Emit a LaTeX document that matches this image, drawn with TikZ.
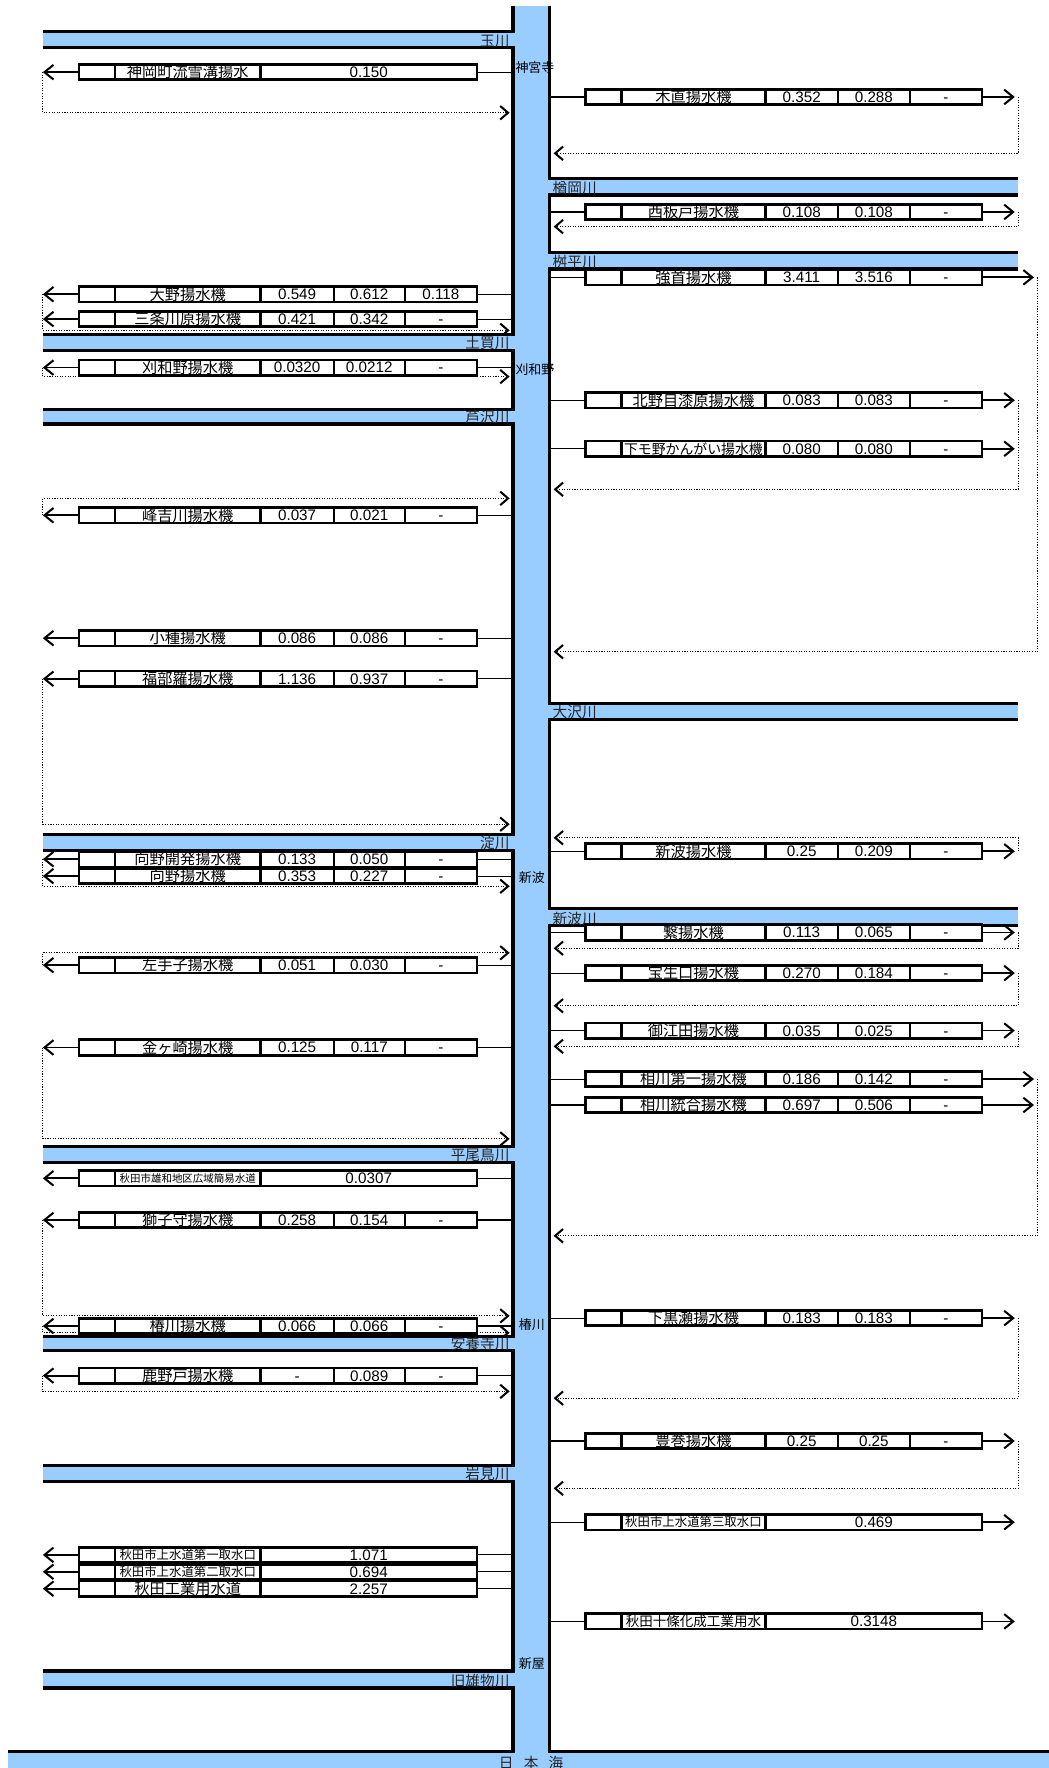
\documentclass[tikz,border=0pt]{standalone}
\usepackage{fontspec}
\setmainfont{Liberation Sans}
\newfontfamily\jp{Noto Sans CJK JP}
\usetikzlibrary{arrows.meta,backgrounds}

\definecolor{riverblue}{RGB}{153,204,255}
\newcommand{\fs}[1]{\fontsize{#1pt}{#1pt}\selectfont}

\tikzset{
  bank/.style={line width=2.8pt},
  pumpbox/.style={draw, line width=2.4pt, fill=white, minimum height=13.6pt, inner sep=0pt},
  cellsep/.style={line width=2.2pt},
  nametext/.style={font={\jp\fs{13.5}}, inner sep=0pt},
  valtext/.style={font={\fs{13.5}}, anchor=base, yshift=-4.8pt, inner sep=0pt},
  tap/.style={line width=1pt},
  outflow/.style={line width=1.6pt, -{Straight Barb[length=8pt,width=13pt,line width=1.8pt]}},
  returnflow/.style={line width=1pt, dash pattern=on 1pt off 1.3pt,
    -{Straight Barb[length=7pt,width=12pt,line width=1.8pt]}},
  rivlabel/.style={font={\jp\fs{13}}, text=black!85, inner sep=0pt},
  placelabel/.style={font={\jp\fs{11.5}}, inner sep=0pt, anchor=west},
}

% left bank pump: id, y, name, three values
\newcommand{\pumpL}[6]{%
  \node[pumpbox, minimum width=353pt] (#1) at (246.5,#2) {};
  \foreach \cx in {102,231,296,359} \draw[cellsep] (\cx,#2) ++(0,-7) -- ++(0,14);
  \node[nametext] (#1-name) at (166.5,#2) {#3};
  \node[valtext] (#1-a) at (263.5,#2) {#4};
  \node[valtext] (#1-b) at (327.5,#2) {#5};
  \node[valtext] (#1-c) at (391,#2) {#6};
  \coordinate (#1-out) at (38,#2);
  \draw[tap] (#1.east) -- (#1.east -| bankL);
  \draw[outflow] (#1.west) -- (#1-out);
}
% left bank intake with one value
\newcommand{\pumpLone}[4]{%
  \node[pumpbox, minimum width=353pt] (#1) at (246.5,#2) {};
  \foreach \cx in {102,231} \draw[cellsep] (\cx,#2) ++(0,-7) -- ++(0,14);
  \node[nametext] (#1-name) at (166.5,#2) {#3};
  \node[valtext] (#1-a) at (327,#2) {#4};
  \coordinate (#1-out) at (38,#2);
  \draw[tap] (#1.east) -- (#1.east -| bankL);
  \draw[outflow] (#1.west) -- (#1-out);
}
% right bank pump: [arrow end], id, y, name, three values
\newcommand{\pumpR}[7][900]{%
  \node[pumpbox, minimum width=352pt] (#2) at (695,#3) {};
  \foreach \cx in {551,679,743,807} \draw[cellsep] (\cx,#3) ++(0,-7) -- ++(0,14);
  \node[nametext] (#2-name) at (615,#3) {#4};
  \node[valtext] (#2-a) at (711,#3) {#5};
  \node[valtext] (#2-b) at (775,#3) {#6};
  \node[valtext] (#2-c) at (839,#3) {#7};
  \coordinate (#2-out) at (#1,#3);
  \draw[tap] (bankR |- #2.west) -- (#2.west);
  \draw[outflow] (#2.east) -- (#2-out);
}
% right bank intake with one value
\newcommand{\pumpRone}[4]{%
  \node[pumpbox, minimum width=352pt] (#1) at (695,#2) {};
  \foreach \cx in {551,679} \draw[cellsep] (\cx,#2) ++(0,-7) -- ++(0,14);
  \node[nametext] (#1-name) at (615,#2) {#3};
  \node[valtext] (#1-a) at (775,#2) {#4};
  \coordinate (#1-out) at (900,#2);
  \draw[tap] (bankR |- #1.west) -- (#1.west);
  \draw[outflow] (#1.east) -- (#1-out);
}

\begin{document}
\begin{tikzpicture}[x=1pt, y=-1pt]
  \useasboundingbox (0,0) rectangle (930,1568);
  \coordinate (bankL) at (455,0);
  \coordinate (bankR) at (487,0);

  % water
  \fill[riverblue] (455,5) rectangle (487,1568);
  \foreach \ya/\yb in {28/42.5, 297/311, 363/376, 740/754, 1017/1031, 1185/1198, 1300/1314, 1482/1497}
    \fill[riverblue] (38,\ya) rectangle (455,\yb);
  \foreach \ya/\yb in {158/173, 224/238.5, 624/638, 806/821}
    \fill[riverblue] (487,\ya) rectangle (903,\yb);
  \fill[riverblue] (7,1553) rectangle (930,1568);

  % banks
  \draw[bank] (455,5) |- (38,28);
  \foreach \ya/\yb in {42.5/297, 311/363, 376/740, 754/1017, 1031/1185, 1198/1300, 1314/1482}
    \draw[bank] (38,\ya) -| (455,\yb) -- (38,\yb);
  \draw[bank] (38,1497) -| (455,1553) -- (7,1553);
  \draw[bank] (487,5) |- (903,158);
  \foreach \ya/\yb in {173/224, 238.5/624, 638/806}
    \draw[bank] (903,\ya) -| (487,\yb) -- (903,\yb);
  \draw[bank] (903,821) -| (487,1553) -- (930,1553);

  % river names
  \node[rivlabel, anchor=base east] (tamagawa) at (452,41) {玉川};
  \node[rivlabel, anchor=base east] (tsuchikai) at (452,309.5) {土買川};
  \node[rivlabel, anchor=base east] (ashizawa) at (452,374.5) {芦沢川};
  \node[rivlabel, anchor=base east] (yodo) at (452,752.5) {淀川};
  \node[rivlabel, anchor=base east] (hiraotori) at (452,1029.5) {平尾鳥川};
  \node[rivlabel, anchor=base east] (anyoji) at (452,1196.5) {安養寺川};
  \node[rivlabel, anchor=base east] (iwami) at (452,1312.5) {岩見川};
  \node[rivlabel, anchor=base east] (kyuomono) at (452,1495.5) {旧雄物川};
  \node[rivlabel, anchor=base west] (naraoka) at (490,171.5) {楢岡川};
  \node[rivlabel, anchor=base west] (masudaira) at (490,237) {桝平川};
  \node[rivlabel, anchor=base west] (osawa) at (490,636.5) {大沢川};
  \node[rivlabel, anchor=base west] (shinnamigawa) at (490,819.5) {新波川};
  \node[rivlabel, anchor=base] (sea) at (471,1568) {日\hspace{9pt}本\hspace{9pt}海};

  % places on the main river
  \node[placelabel] (jinguji) at (457,60) {神宮寺};
  \node[placelabel] (kariwanoP) at (457,328) {刈和野};
  \node[placelabel] (shinnamiP) at (460,778) {新波};
  \node[placelabel] (tsubakigawaP) at (460,1175) {椿川};
  \node[placelabel] (araya) at (460,1475) {新屋};

  % left bank
  \pumpLone{kamioka}{64}{神岡町流雪溝揚水}{0.150}
  \pumpL{ono}{261}{大野揚水機}{0.549}{0.612}{0.118}
  \pumpL{sanjo}{283}{三条川原揚水機}{0.421}{0.342}{-}
  \pumpL{kariwano}{326}{刈和野揚水機}{0.0320}{0.0212}{-}
  \pumpL{minekichi}{457}{峰吉川揚水機}{0.037}{0.021}{-}
  \pumpL{kodane}{566}{小種揚水機}{0.086}{0.086}{-}
  \pumpL{fukubera}{602}{福部羅揚水機}{1.136}{0.937}{-}
  \pumpL{kounokaihatsu}{762}{向野開発揚水機}{0.133}{0.050}{-}
  \pumpL{kouno}{777}{向野揚水機}{0.353}{0.227}{-}
  \pumpL{hidarite}{856}{左手子揚水機}{0.051}{0.030}{-}
  \pumpL{kanegasaki}{929}{金ヶ崎揚水機}{0.125}{0.117}{-}
  \pumpLone{yuwa}{1045}{\fs{9.3}秋田市雄和地区広域簡易水道}{0.0307}
  \pumpL{shishimori}{1082}{獅子守揚水機}{0.258}{0.154}{-}
  \pumpL{tsubakigawa}{1176}{椿川揚水機}{0.066}{0.066}{-}
  \pumpL{kanoto}{1220}{鹿野戸揚水機}{-}{0.089}{-}
  \pumpLone{josui1}{1379}{\fs{11}秋田市上水道第一取水口}{1.071}
  \pumpLone{josui2}{1394}{\fs{11}秋田市上水道第二取水口}{0.694}
  \pumpLone{kogyo}{1409}{秋田工業用水道}{2.257}

  % right bank
  \pumpR{kinao}{86}{木直揚水機}{0.352}{0.288}{-}
  \pumpR{nishiitado}{188}{西板戸揚水機}{0.108}{0.108}{-}
  \pumpR[917]{kubi}{246}{強首揚水機}{3.411}{3.516}{-}
  \pumpR{kitanome}{355}{北野目漆原揚水機}{0.083}{0.083}{-}
  \pumpR{shimono}{398}{\fs{12.3}下モ野かんがい揚水機}{0.080}{0.080}{-}
  \pumpR{shinnami}{755}{新波揚水機}{0.25}{0.209}{-}
  \pumpR{tsunagi}{827}{繋揚水機}{0.113}{0.065}{-}
  \pumpR{hoshoguchi}{863}{宝生口揚水機}{0.270}{0.184}{-}
  \pumpR{oeda}{914}{御江田揚水機}{0.035}{0.025}{-}
  \pumpR[917]{aikawa1}{957}{相川第一揚水機}{0.186}{0.142}{-}
  \pumpR[917]{aikawa2}{980}{相川統合揚水機}{0.697}{0.506}{-}
  \pumpR{shimokurose}{1169}{下黒瀬揚水機}{0.183}{0.183}{-}
  \pumpR{toyomaki}{1278}{豊巻揚水機}{0.25}{0.25}{-}
  \pumpRone{josui3}{1350}{\fs{11}秋田市上水道第三取水口}{0.469}
  \pumpRone{jujo}{1438}{\fs{12}秋田十條化成工業用水}{0.3148}

  % return flows
  \begin{scope}[on background layer]
    \draw[returnflow] (kamioka-out) |- (452,100);
    \draw[returnflow] (ono-out) |- (452,293);
    \draw[returnflow] (kariwano-out) |- (452,334);
    \draw[returnflow] (minekichi-out) |- (452,442);
    \draw[returnflow] (fukubera-out) |- (452,731);
    \draw[returnflow] (kounokaihatsu-out) |- (452,786);
    \draw[returnflow] (hidarite-out) |- (452,845);
    \draw[returnflow] (kanegasaki-out) |- (452,1010);
    \draw[returnflow] (shishimori-out) |- (452,1167);
    \draw[returnflow] (tsubakigawa-out) |- (452,1182);
    \draw[returnflow] (kanoto-out) |- (452,1234);
    \draw[returnflow] (kinao-out) ++(3,0) |- (491,136);
    \draw[returnflow] (nishiitado-out) ++(3,0) |- (491,201);
    \draw[returnflow] (kubi-out) ++(3,0) |- (491,578);
    \draw[returnflow] (kitanome-out) ++(3,0) |- (491,434);
    \draw[returnflow] (shinnami-out) ++(3,0) |- (491,743);
    \draw[returnflow] (tsunagi-out) ++(3,0) |- (491,841);
    \draw[returnflow] (hoshoguchi-out) ++(3,0) |- (491,892);
    \draw[returnflow] (oeda-out) ++(3,0) |- (491,928);
    \draw[returnflow] (aikawa1-out) ++(3,0) |- (491,1096);
    \draw[returnflow] (shimokurose-out) ++(3,0) |- (491,1240);
    \draw[returnflow] (toyomaki-out) ++(3,0) |- (491,1320);
  \end{scope}
\end{tikzpicture}
\end{document}
